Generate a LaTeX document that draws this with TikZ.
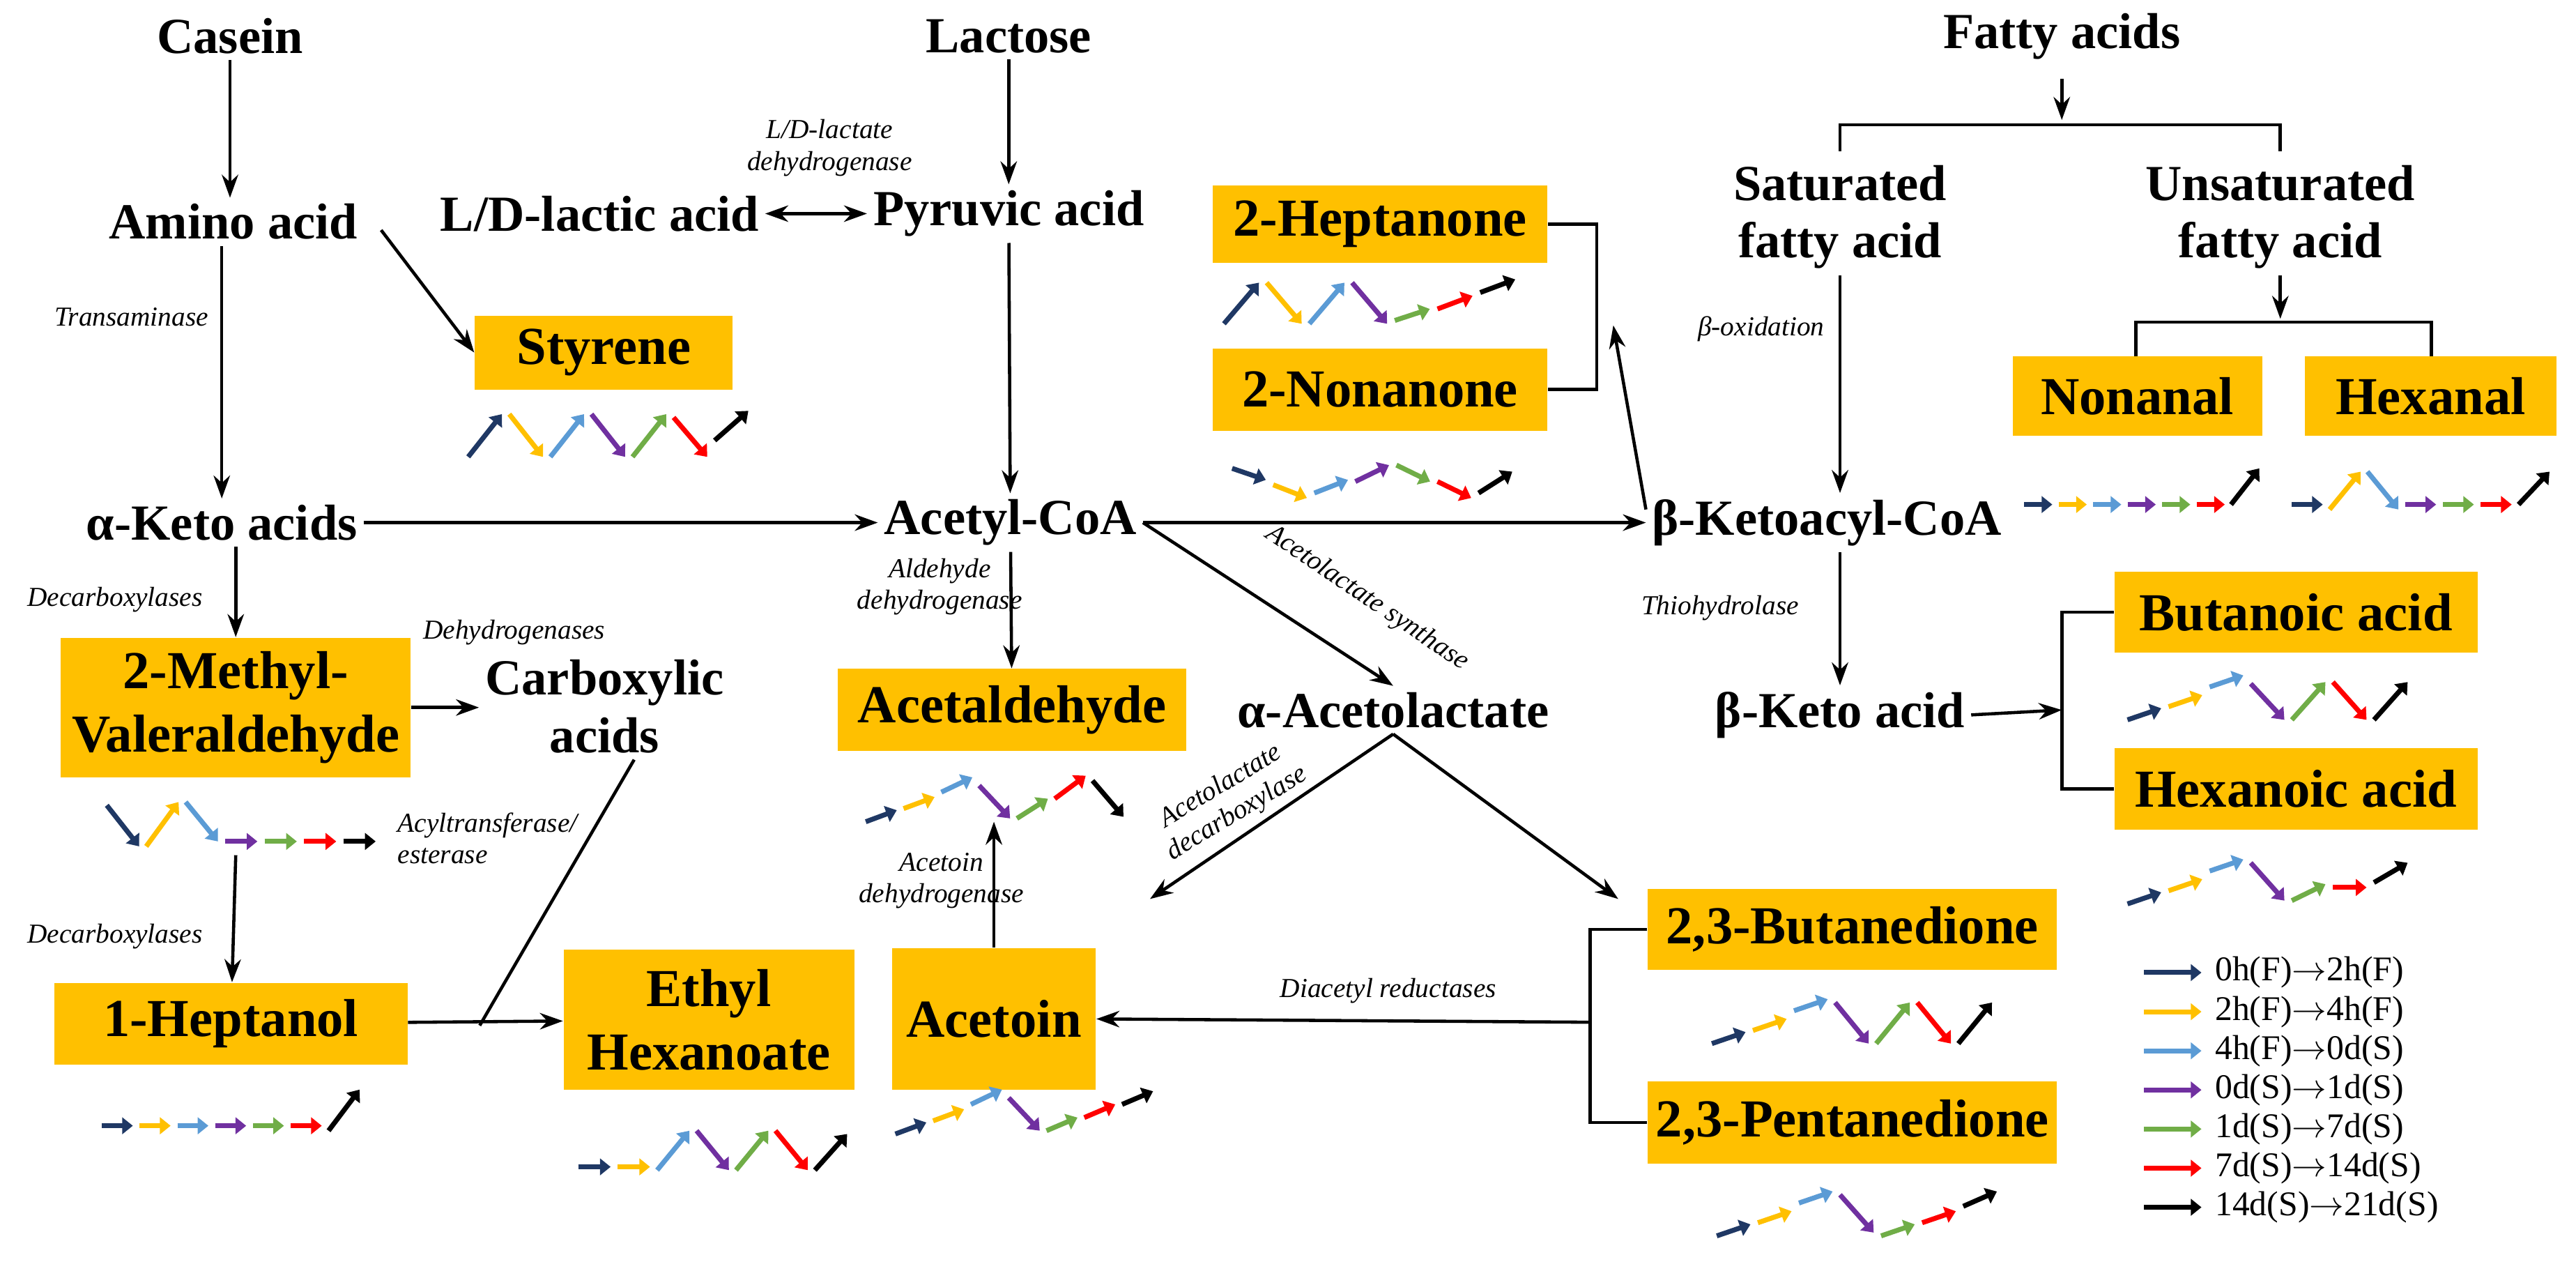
\documentclass[tikz,border=0pt]{standalone}
\usepackage{fontspec}
\setmainfont{Liberation Serif}
\usetikzlibrary{arrows.meta}
\definecolor{boxor}{HTML}{FFC000}
\definecolor{tnavy}{HTML}{1F3864}
\definecolor{tor}{HTML}{FFC000}
\definecolor{tblue}{HTML}{5B9BD5}
\definecolor{tpur}{HTML}{7030A0}
\definecolor{tgreen}{HTML}{70AD47}
\definecolor{tred}{HTML}{FF0000}
\definecolor{tblack}{HTML}{000000}
\tikzset{
  lbl/.style={font=\fontsize{17.5}{20}\selectfont\bfseries, align=center, inner sep=2pt},
  box/.style={fill=boxor, font=\fontsize{18.5}{22}\selectfont\bfseries, align=center, inner sep=0pt},
  enz/.style={font=\fontsize{9.5}{11}\selectfont\itshape, align=center, inner sep=1pt},
  arr/.style={line width=1.1pt, -{Stealth[length=0.28cm,width=0.2cm]}},
  ln/.style={line width=1.1pt},
  tr1/.style={tnavy}, tr2/.style={tor}, tr3/.style={tblue}, tr4/.style={tpur},
  tr5/.style={tgreen}, tr6/.style={tred}, tr7/.style={tblack},
  trarr/.style={line width=1.7pt, -{Triangle[length=0.13cm,width=0.2cm]}},
}
\newcommand\bx[6]{\node[box,minimum width=#4*0.02cm,minimum height=#5*0.02cm] (#1) at (#2,#3) {#6};}
% x0 y0 spacing list a/b (offsets upward)
\newcommand\trend[4]{%
  \foreach \a/\b [count=\i] in {#4} {
    \draw[trarr,tr\i] ({#1+(\i-1)*#3},{#2-\a}) -- ({#1+(\i-1)*#3+0.82*#3},{#2-\b});
  }}
\begin{document}
\begin{tikzpicture}[x=0.02cm,y=-0.02cm]
\useasboundingbox (0,0) rectangle (1568,777.6);
% plain labels
\node[lbl] (casein) at (140,22) {Casein};
\node[lbl] (lactose) at (614,22) {Lactose};
\node[lbl] (fatty) at (1255,22) {Fatty acids};
\node[lbl] (amino) at (142,135) {Amino acid};
\node[lbl] (lactic) at (365,130) {L/D-lactic acid};
\node[lbl] (pyruvic) at (614,130) {Pyruvic acid};
\node[lbl] (sat) at (1120,132) {Saturated\\fatty acid};
\node[lbl] (unsat) at (1388,132) {Unsaturated\\fatty acid};
\node[lbl] (keto) at (135,318) {α-Keto acids};
\node[lbl] (acoa) at (615,318) {Acetyl-CoA};
\node[lbl] (bkcoa) at (1112,318) {β-Ketoacyl-CoA};
\node[lbl] (carbox) at (368,430) {Carboxylic\\acids};
\node[lbl] (acetolac) at (848,432) {α-Acetolactate};
\node[lbl] (bketo) at (1120,435) {β-Keto acid};
% boxes
\bx{heptanone}{840}{136.5}{204}{47}{2-Heptanone}
\bx{nonanone}{840}{237}{204}{50}{2-Nonanone}
\bx{styrene}{367.5}{214.5}{157}{45}{Styrene}
\bx{nonanal}{1301}{241}{152}{48}{Nonanal}
\bx{hexanal}{1479.5}{241}{153}{48}{Hexanal}
\bx{butanoic}{1397.5}{372.5}{221}{49}{Butanoic acid}
\bx{hexanoic}{1397.5}{480}{221}{50}{Hexanoic acid}
\bx{methyl}{143.5}{430.5}{213}{85}{2-Methyl-\\Valeraldehyde}
\bx{acetald}{616}{432}{212}{50}{Acetaldehyde}
\bx{heptanol}{140.5}{623}{215}{50}{1-Heptanol}
\bx{ethyl}{431.5}{620.5}{177}{85}{Ethyl\\Hexanoate}
\bx{acetoin}{605}{620}{124}{86}{Acetoin}
\bx{butanedione}{1127.5}{565.5}{249}{49}{2,3-Butanedione}
\bx{pentanedione}{1127.5}{683}{249}{50}{2,3-Pentanedione}
% enzyme labels
\node[enz] at (505,90) {L/D-lactate\\dehydrogenase};
\node[enz] at (80,193) {Transaminase};
\node[enz] at (1072,200) {β-oxidation};
\node[enz] at (70,365) {Decarboxylases};
\node[enz] at (313,385) {Dehydrogenases};
\node[enz] at (572,357) {Aldehyde\\dehydrogenase};
\node[enz,rotate=-34] at (832,364) {Acetolactate synthase};
\node[enz] at (1047,370) {Thiohydrolase};
\node[enz,align=left,anchor=west] at (240,510) {Acyltransferase/\\esterase};
\node[enz] at (70,570) {Decarboxylases};
\node[enz,rotate=31] at (748,487) {Acetolactate\\decarboxylase};
\node[enz] at (573,536) {Acetoin\\dehydrogenase};
\node[enz] at (845,603) {Diacetyl reductases};
% connectors
\coordinate (fa) at (1255,48);
\coordinate (fb) at (1255,73);
\draw[arr] (fa) -- (fb);
\draw[ln] (1120,92) -- (1120,76) -- (1388,76) -- (1388,92);
\draw[arr] (casein) -- (amino.north -| casein);
\draw[arr] (lactose) -- (pyruvic);
\draw[arr] (amino.south -| keto) -- (keto);
\draw[arr] (232,140) -- (styrene.west);
\draw[line width=1.1pt,{Stealth[length=0.28cm,width=0.2cm]}-{Stealth[length=0.28cm,width=0.2cm]}] (lactic) -- (pyruvic);
\draw[arr] (pyruvic) -- (acoa);
\draw[arr] (keto) -- (acoa);
\draw[arr] (acoa) -- (bkcoa);
\draw[arr] (keto.south -| methyl) -- (methyl);
\draw[arr] (methyl) -- (carbox.west |- methyl);
\draw[arr] (methyl.south) ++(0,47) coordinate (ms) (ms) -- (heptanol);
\draw[arr] (heptanol) -- (ethyl);
\draw[ln] (carbox.south) ++(18,0) coordinate (cs) (cs) -- (292,624);
\draw[arr] (acoa) -- (acetald);
\draw[arr] (acoa.east) -- (acetolac.north);
\draw[arr] (acetolac.south) -- (700,547);
\draw[arr] (acetolac.south) -- (985,547);
\draw[arr] (acetoin) -- (acetoin.north |- 500,500);
\draw[ln] (butanedione.west) -- (968,565.5) -- (968,683) -- (pentanedione.west);
\draw[arr] (968,622) -- (acetoin.east);
\draw[ln] (heptanone.east) -- (972,136.5) -- (972,237) -- (nonanone.east);
\draw[arr] (bkcoa.west) ++(0,-8) coordinate (bw) (bw) -- (982,198);
\draw[arr] (sat) -- (bkcoa.north -| sat);
\draw[arr] (unsat) -- (1388,194);
\draw[ln] (1300,217) -- (1300,196) -- (1480,196) -- (1480,217);
\draw[arr] (bkcoa.south -| sat) -- (bketo);
\draw[ln] (butanoic.west) -- (1255,372.5) -- (1255,480) -- (hexanoic.west);
\draw[arr] (bketo.east) -- (1255,432);
% trends
\trend{285}{278}{25}{0/26,26/0,0/26,26/0,0/26,24/0,10/28}
\trend{745}{197}{26}{0/25,25/0,0/25,25/0,2/9,9/17,19/27}
\trend{750}{303}{25}{18/11,8/0,3/11,10/20,20/10,10/0,3/16}
\trend{1232}{307}{21}{0/0,0/0,0/0,0/0,0/0,0/0,0/22}
\trend{1395}{310}{23}{3/3,0/23,23/0,3/3,3/3,3/3,3/23}
\trend{1295}{438}{25}{0/7,8/15,20/27,22/0,0/23,23/0,0/23}
\trend{1295}{550}{25}{0/7,8/15,20/27,25/2,2/12,10/10,13/25}
\trend{1042}{635}{25}{0/7,8/15,20/27,25/0,0/25,25/0,0/25}
\trend{1045}{752}{25}{0/7,8/15,20/27,25/2,0/7,8/15,18/27}
\trend{527}{500}{23}{0/7,8/15,18/27,22/2,2/14,14/28,25/3}
\trend{545}{690}{23}{0/7,8/15,18/27,22/2,2/10,10/18,18/26}
\trend{65}{515}{24}{25/0,0/27,27/3,3/3,3/3,3/3,3/3}
\trend{62}{688}{23}{3/3,3/3,3/3,3/3,3/3,3/3,0/25}
\trend{352}{712}{24}{2/2,2/2,0/24,24/0,0/24,24/0,0/22}
% legend
\foreach \t [count=\i] in {0h(F)$\rightarrow$2h(F),2h(F)$\rightarrow$4h(F),4h(F)$\rightarrow$0d(S),0d(S)$\rightarrow$1d(S),1d(S)$\rightarrow$7d(S),7d(S)$\rightarrow$14d(S),14d(S)$\rightarrow$21d(S)} {
  \draw[trarr,tr\i] (1305,{568+23.8*\i}) -- (1340,{568+23.8*\i});
  \node[anchor=west,font=\fontsize{12}{14}\selectfont,inner sep=0pt] (leg\i) at (1348,{568+23.8*\i}) {\t};
}
\end{tikzpicture}
\end{document}
